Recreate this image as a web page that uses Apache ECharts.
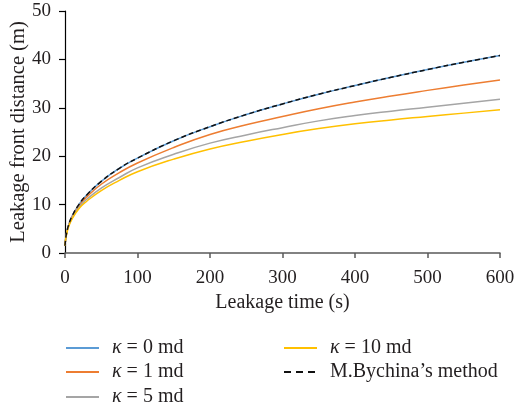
<!DOCTYPE html>
<html>
<head>
<meta charset="utf-8">
<script src="https://cdn.jsdelivr.net/npm/echarts@6/dist/echarts.min.js"></script>
<style>html,body{margin:0;padding:0;background:#fff}#c{width:517px;height:412px}</style>
</head>
<body>
<div id="c"></div>
<script>
var times = [0, 1, 2, 5, 10, 20, 30, 50, 75, 100, 150, 200, 250, 300, 350, 400, 450, 500, 550, 600];
var k0 = [1.5, 3.0, 4.0, 5.8, 7.7, 10.2, 12.0, 14.8, 17.5, 19.6, 23.2, 26.1, 28.6, 30.8, 32.8, 34.6, 36.3, 37.9, 39.4, 40.8];
var k1 = [1.5, 3.0, 3.9, 5.7, 7.5, 9.9, 11.6, 14.2, 16.6, 18.6, 21.8, 24.5, 26.5, 28.2, 29.8, 31.2, 32.45, 33.6, 34.7, 35.75];
var k5 = [1.5, 3.0, 3.8, 5.6, 7.3, 9.6, 11.1, 13.4, 15.6, 17.6, 20.4, 22.7, 24.4, 25.9, 27.3, 28.4, 29.3, 30.1, 30.95, 31.75];
var k10 = [1.5, 3.0, 3.7, 5.4, 7.1, 9.3, 10.7, 12.9, 15.0, 16.8, 19.4, 21.5, 23.1, 24.5, 25.7, 26.7, 27.5, 28.2, 28.9, 29.6];
var bychina = [1.5, 3.0, 4.0, 5.8, 7.7, 10.2, 12.0, 14.8, 17.5, 19.6, 23.2, 26.1, 28.6, 30.8, 32.8, 34.6, 36.3, 37.9, 39.4, 40.8];
var names = ['\u03ba = 0 md', '\u03ba = 1 md', '\u03ba = 5 md', '\u03ba = 10 md', 'M.Bychina\u2019s method'];
var xTicks = [0, 100, 200, 300, 400, 500, 600];
var yTicks = [0, 10, 20, 30, 40, 50];
var yTitle = 'Leakage front distance (m)';

function pairs(v) { return times.map(function (t, i) { return [t, v[i]]; }); }
var FONT = 'Liberation Serif';
var TXT = '#231f20';
var chart = echarts.init(document.getElementById('c'), null, {renderer: 'canvas'});
function line(name, data, color, type, width) {
  return {
    name: name, type: 'line', data: pairs(data), smooth: true, symbol: 'none', showSymbol: false,
    lineStyle: {color: color, width: width, type: type}, itemStyle: {color: color},
    animation: false
  };
}
// legend slots: [left, centerY]
var slots = [[65, 348], [65, 372], [65, 397], [283, 348], [283, 372]];
var legends = names.map(function (n, i) {
  var lg = {
    orient: 'vertical', left: slots[i][0], top: slots[i][1] - 10, padding: 0,
    itemWidth: 33, itemHeight: 14, itemGap: 0,
    itemStyle: {opacity: 0},
    data: [n],
    formatter: function (s) {
      return s.charAt(0) === '\u03ba' ? '{i|\u03ba}{t|' + s.slice(1) + '}' : '{t|' + s + '}';
    },
    textStyle: {
      padding: [0, 0, 0, 8],
      rich: {
        i: {fontFamily: FONT, fontStyle: 'italic', fontSize: 20, color: TXT, lineHeight: 20},
        t: {fontFamily: FONT, fontSize: 20, color: TXT, lineHeight: 20}
      }
    }
  };
  if (i === 4) { lg.lineStyle = {type: [7, 5]}; }
  return lg;
});
chart.setOption({
  animation: false,
  textStyle: {fontFamily: FONT, color: TXT},
  grid: {left: 65, right: 17, top: 11, bottom: 159, containLabel: false, outerBoundsMode: 'none'},
  legend: legends,
  graphic: [{
    type: 'text', x: 19, y: 132, rotation: Math.PI / 2, silent: true,
    style: {text: yTitle, fontFamily: FONT, fontSize: 20.5, fill: TXT, align: 'center', verticalAlign: 'middle'}
  }],
  xAxis: {
    type: 'value', min: xTicks[0], max: xTicks[xTicks.length - 1], interval: 100,
    name: 'Leakage time (s)', nameLocation: 'middle', nameGap: 39,
    nameTextStyle: {fontFamily: FONT, fontSize: 20, color: TXT},
    axisLine: {show: true, lineStyle: {color: '#5a5a5a', width: 1.5}},
    axisTick: {show: true, length: 5, lineStyle: {color: '#5a5a5a', width: 1.5}},
    axisLabel: {fontFamily: FONT, fontSize: 19, color: TXT, margin: 16},
    splitLine: {show: false}
  },
  yAxis: {
    type: 'value', min: yTicks[0], max: yTicks[yTicks.length - 1], interval: 10,
    axisLine: {show: true, lineStyle: {color: '#000', width: 1.2}},
    axisTick: {show: true, length: 6, lineStyle: {color: '#000', width: 1.2}},
    axisLabel: {fontFamily: FONT, fontSize: 19, color: TXT, margin: 14},
    splitLine: {show: false}
  },
  series: [
    line(names[0], k0, '#5B9BD5', 'solid', 1.5),
    line(names[1], k1, '#ED7D31', 'solid', 1.5),
    line(names[2], k5, '#A5A5A5', 'solid', 1.5),
    line(names[3], k10, '#FFC000', 'solid', 1.5),
    line(names[4], bychina, '#111111', [5, 3], 1.5)
  ]
});
</script>
</body>
</html>
